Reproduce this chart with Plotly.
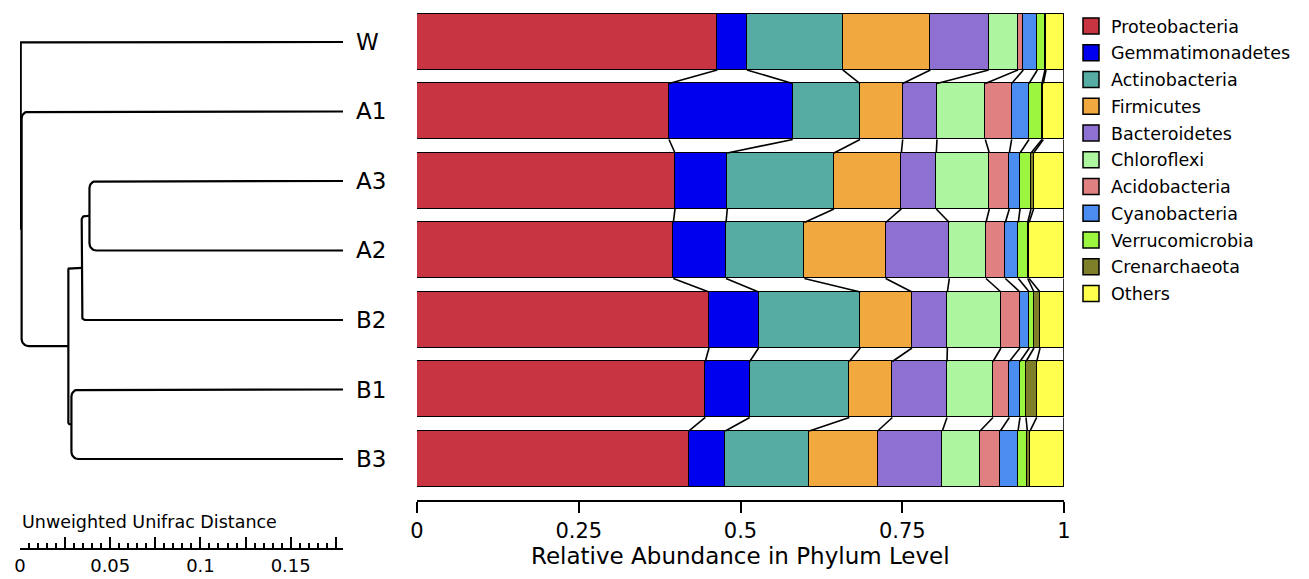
import math
import plotly.graph_objects as go

# ---------------- data ----------------
samples = ["W", "A1", "A3", "A2", "B2", "B1", "B3"]
phyla = ["Proteobacteria", "Gemmatimonadetes", "Actinobacteria", "Firmicutes",
         "Bacteroidetes", "Chloroflexi", "Acidobacteria", "Cyanobacteria",
         "Verrucomicrobia", "Crenarchaeota", "Others"]

# relative abundance per phylum, in sample order W, A1, A3, A2, B2, B1, B3
proteobacteria   = [0.464, 0.3895, 0.3988, 0.3962, 0.4513, 0.4456, 0.4199]
gemmatimonadetes = [0.046, 0.1912, 0.0808, 0.0814, 0.0767, 0.0686, 0.0566]
actinobacteria   = [0.148, 0.1040, 0.1649, 0.1211, 0.1572, 0.1540, 0.1299]
firmicutes       = [0.1355, 0.0660, 0.1041, 0.1257, 0.0799, 0.0665, 0.1056]
bacteroidetes    = [0.0901, 0.0530, 0.0540, 0.0984, 0.0546, 0.0845, 0.0999]
chloroflexi      = [0.0453, 0.0747, 0.0820, 0.0566, 0.0829, 0.0711, 0.0583]
acidobacteria    = [0.0082, 0.0407, 0.0309, 0.0299, 0.0294, 0.0252, 0.0314]
cyanobacteria    = [0.0217, 0.0268, 0.0165, 0.0201, 0.0144, 0.0165, 0.0273]
verrucomicrobia  = [0.0118, 0.0201, 0.0170, 0.0145, 0.0072, 0.0093, 0.0144]
crenarchaeota    = [0.0016, 0.0020, 0.0040, 0.0021, 0.0094, 0.0165, 0.0041]
others           = [0.0278, 0.0320, 0.0470, 0.0540, 0.0370, 0.0422, 0.0526]

colors = ["#C83441", "#0000EE", "#56ABA3", "#F0A83F", "#8E70D3", "#AEF5A0",
          "#E08080", "#4A8CF0", "#9CF53E", "#7F7F2A", "#FFFF4D"]

x_ticks = [0, 0.25, 0.5, 0.75, 1]
x_ticklabels = ["0", "0.25", "0.5", "0.75", "1"]
x_title = "Relative Abundance in Phylum Level"

# dendrogram (x = Unweighted Unifrac distance from the root)
leaf_x = 0.179
merges = [  # (child 1, child 2, new node, node x)
    ("A3", "A2", "N4", 0.0385),
    ("N4", "B2", "N3", 0.0342),
    ("B1", "B3", "N5", 0.0285),
    ("N3", "N5", "N2", 0.0268),
    ("A1", "N2", "N1", 0.0009),
    ("W", "N1", "R", 0.0004),
]
scale_ticks = [0, 0.025, 0.05, 0.075, 0.1, 0.125, 0.15, 0.175]
scale_ticklabels = ["0", "", "0.05", "", "0.1", "", "0.15", ""]
scale_title = "Unweighted Unifrac Distance"

# ---------------- figure ----------------
W_PX, H_PX = 1309, 579
FONT = "DejaVu Sans"
series = [proteobacteria, gemmatimonadetes, actinobacteria, firmicutes,
          bacteroidetes, chloroflexi, acidobacteria, cyanobacteria,
          verrucomicrobia, crenarchaeota, others]
ypos = list(range(len(samples)))
bar_w = 0.805

X_DOM = [417 / W_PX, 1064 / W_PX]
X2_DOM = [20 / W_PX, 343 / W_PX]
Y_DOM = [1 - 500 / H_PX, 1 - 7.25 / H_PX]
Y_RANGE = [6.59, -0.5]
px_per_x2 = (X2_DOM[1] - X2_DOM[0]) * W_PX / leaf_x
px_per_y = (Y_DOM[1] - Y_DOM[0]) * H_PX / (Y_RANGE[0] - Y_RANGE[1])

fig = go.Figure()

for name, vals, col in zip(phyla, series, colors):
    fig.add_trace(go.Bar(
        x=vals, y=ypos, orientation="h", width=bar_w, name=name,
        marker=dict(color=col, line=dict(color="black", width=1.5)),
        showlegend=False, cliponaxis=False, hoverinfo="x+name",
    ))

# connector lines between cumulative boundaries of consecutive samples
cum = []
for i in range(len(samples)):
    s, row = 0.0, []
    for vals in series:
        s += vals[i]
        row.append(s)
    cum.append(row)
cx, cy = [], []
for i in range(len(samples) - 1):
    for k in range(len(phyla)):
        cx += [cum[i][k], cum[i + 1][k], None]
        cy += [i + bar_w / 2, i + 1 - bar_w / 2, None]
fig.add_trace(go.Scatter(x=cx, y=cy, mode="lines",
                         line=dict(color="black", width=1.6),
                         showlegend=False, hoverinfo="skip", cliponaxis=False))

# legend entries
for name, col in zip(phyla, colors):
    fig.add_trace(go.Scatter(
        x=[None], y=[None], mode="markers", name=name, legendgroup=name,
        marker=dict(symbol="square", size=16, color=col,
                    line=dict(color="black", width=1.5)),
    ))

# dendrogram with slightly rounded elbows
R_PX = 7
node_pos = {s: (leaf_x, i) for i, s in enumerate(samples)}
dx, dy = [], []
for a, b, n, nx in merges:
    ax_, ay_ = node_pos[a]
    bx_, by_ = node_pos[b]
    r = min(R_PX, (ax_ - nx) * px_per_x2 / 2, (bx_ - nx) * px_per_x2 / 2,
            (by_ - ay_) * px_per_y / 2)
    rx, ry = r / px_per_x2, r / px_per_y
    dx.append(ax_); dy.append(ay_)
    for j in range(9):
        t = (math.pi / 2) * j / 8
        dx.append(nx + rx * (1 - math.sin(t))); dy.append(ay_ + ry * (1 - math.cos(t)))
    for j in range(9):
        t = (math.pi / 2) * j / 8
        dx.append(nx + rx * (1 - math.cos(t))); dy.append(by_ - ry * (1 - math.sin(t)))
    dx += [bx_, None]; dy += [by_, None]
    node_pos[n] = (nx, (ay_ + by_) / 2)
fig.add_trace(go.Scatter(x=dx, y=dy, mode="lines", xaxis="x2", yaxis="y",
                         line=dict(color="black", width=2.2),
                         showlegend=False, hoverinfo="skip", cliponaxis=False))

annotations = []
for i, s in enumerate(samples):
    annotations.append(dict(x=leaf_x, y=i, xref="x2", yref="y", text=s,
                            showarrow=False, xanchor="left", yanchor="middle",
                            xshift=11, font=dict(size=23, color="black")))
annotations.append(dict(x=X2_DOM[0], y=1 - 522 / H_PX, xref="paper", yref="paper",
                        text=scale_title, showarrow=False,
                        xanchor="left", yanchor="middle",
                        font=dict(size=17.5, color="black")))
annotations.append(dict(x=(X_DOM[0] + X_DOM[1]) / 2, y=1 - 556 / H_PX,
                        xref="paper", yref="paper", text=x_title,
                        showarrow=False, xanchor="center", yanchor="middle",
                        font=dict(size=23, color="black")))

fig.update_layout(
    width=W_PX, height=H_PX, autosize=False,
    margin=dict(l=0, r=0, t=0, b=0, pad=0, autoexpand=False),
    paper_bgcolor="white", plot_bgcolor="white",
    font=dict(family=FONT, color="black"),
    barmode="stack", bargap=0,
    showlegend=True,
    legend=dict(x=1071 / W_PX, y=1 - 8 / H_PX, xanchor="left", yanchor="top",
                font=dict(size=17.5), tracegroupgap=1, traceorder="grouped",
                bgcolor="rgba(0,0,0,0)"),
    xaxis=dict(domain=X_DOM, range=[0, 1], anchor="y",
               automargin=False,
               showline=True, linecolor="black", linewidth=1.5,
               ticks="outside", ticklen=11, tickwidth=1.5, tickcolor="black",
               tickvals=x_ticks, ticktext=x_ticklabels,
               tickfont=dict(size=21), showgrid=False, zeroline=False),
    yaxis=dict(domain=Y_DOM, range=Y_RANGE,
               visible=False, anchor="x", automargin=False),
    xaxis2=dict(domain=X2_DOM, range=[0, leaf_x],
                anchor="free", position=1 - 549 / H_PX, automargin=False,
                showline=True, linecolor="black", linewidth=2,
                ticks="inside", ticklen=11, tickwidth=2, tickcolor="black",
                tickvals=scale_ticks, ticktext=scale_ticklabels,
                minor=dict(dtick=0.005, tick0=0, ticks="inside", ticklen=5,
                           tickwidth=1.5, tickcolor="black"),
                tickfont=dict(size=18), showgrid=False, zeroline=False),
    annotations=annotations,
)

fig.write_html("out.html", config={"displayModeBar": False},
               post_script="document.body.style.margin='0';"
                           "document.body.style.overflow='hidden';")
